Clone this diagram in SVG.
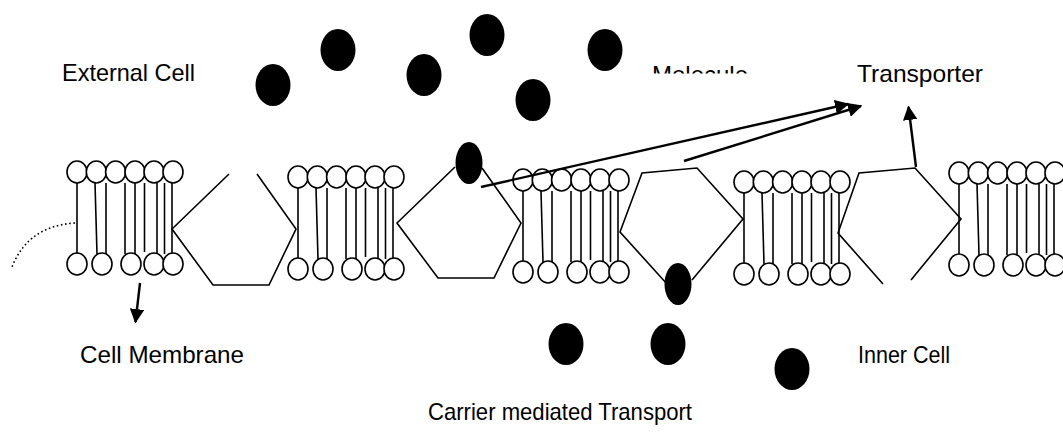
<svg xmlns="http://www.w3.org/2000/svg" xmlns:xlink="http://www.w3.org/1999/xlink" width="1063" height="432" viewBox="0 0 1063 432">
  <style>
    .head { fill: #fff; stroke: #000; stroke-width: 1.6; }
    .tail { stroke: #000; stroke-width: 1.6; fill: none; }
    .carrier { fill: none; stroke: #000; stroke-width: 1.6; stroke-linejoin: miter; }
    .mol { fill: #000; }
    .label { font-family: "Liberation Sans", Arial, sans-serif; font-size: 24px; fill: #000; }
    .arrow { stroke: #000; stroke-width: 2.4; fill: none; }
    .dots { stroke: #000; stroke-width: 1.6; fill: none; stroke-dasharray: 1.6 2.6; }
  </style>
  <defs>
    <!-- one phospholipid bilayer segment, origin at the first upper head -->
    <g id="bilayer">
      <line class="tail" x1="0" y1="11" x2="0" y2="81"/>
      <line class="tail" x1="18" y1="11" x2="20" y2="82"/>
      <line class="tail" x1="29" y1="11" x2="29" y2="82"/>
      <line class="tail" x1="48" y1="11" x2="48" y2="82"/>
      <line class="tail" x1="58" y1="11" x2="58" y2="82"/>
      <line class="tail" x1="67.5" y1="11" x2="67.5" y2="80"/>
      <line class="tail" x1="80" y1="11" x2="80" y2="82"/>
      <line class="tail" x1="87.5" y1="11" x2="87.5" y2="82"/>
      <line class="tail" x1="95" y1="11" x2="95" y2="82"/>
      <ellipse class="head" cx="0" cy="0" rx="10" ry="11"/>
      <ellipse class="head" cx="19.3" cy="0" rx="10" ry="11"/>
      <ellipse class="head" cx="38.6" cy="0" rx="10" ry="11"/>
      <ellipse class="head" cx="58" cy="0" rx="10" ry="11"/>
      <ellipse class="head" cx="77" cy="0" rx="10" ry="11"/>
      <ellipse class="head" cx="96" cy="0" rx="10" ry="11"/>
      <ellipse class="head" cx="0" cy="92" rx="10" ry="11"/>
      <ellipse class="head" cx="25" cy="92" rx="10" ry="11"/>
      <ellipse class="head" cx="54" cy="92" rx="10" ry="11"/>
      <ellipse class="head" cx="77" cy="92" rx="10" ry="11"/>
      <ellipse class="head" cx="96" cy="92" rx="10" ry="11"/>
    </g>
    <marker id="head" viewBox="0 0 10 10" refX="9" refY="5" markerWidth="6" markerHeight="6" orient="auto" markerUnits="strokeWidth">
      <path d="M0,0 L10,5 L0,10 Z" fill="#000"/>
    </marker>
    <clipPath id="clipMolecule">
      <rect x="630" y="50" width="140" height="23.5"/>
    </clipPath>
  </defs>

  <!-- membrane segments -->
  <g id="membrane">
    <use id="bilayer-1" xlink:href="#bilayer" x="77" y="172"/>
    <use id="bilayer-2" xlink:href="#bilayer" x="298" y="177"/>
    <use id="bilayer-3" xlink:href="#bilayer" x="523" y="180"/>
    <use id="bilayer-4" xlink:href="#bilayer" x="744" y="182"/>
    <use id="bilayer-5" xlink:href="#bilayer" x="959" y="173"/>
  </g>

  <!-- carrier proteins -->
  <g id="carrier-1">
    <polyline class="carrier" points="229,174 172,229 213,285 269,285 296,229 257,174"/>
  </g>
  <g id="carrier-2">
    <polyline class="carrier" points="455,167 397,223 438,278 494,278 521,223 482,168"/>
  </g>
  <g id="carrier-3">
    <polyline class="carrier" points="667,284 620,232 642,173 697,168 743,219 692,280"/>
  </g>
  <g id="carrier-4">
    <polyline class="carrier" points="883,284 838,233 859,173 915,168 961,219 911,280"/>
  </g>

  <!-- solute molecules -->
  <g id="molecules">
    <ellipse class="mol" cx="273" cy="85" rx="17.5" ry="21"/>
    <ellipse class="mol" cx="338" cy="50" rx="17.5" ry="21"/>
    <ellipse class="mol" cx="424" cy="75" rx="17.5" ry="21"/>
    <ellipse class="mol" cx="487" cy="35" rx="17.5" ry="21"/>
    <ellipse class="mol" cx="533" cy="100" rx="17.5" ry="21"/>
    <ellipse class="mol" cx="605" cy="50" rx="17.5" ry="21"/>
    <ellipse class="mol" cx="469" cy="163" rx="13.5" ry="21"/>
    <ellipse class="mol" cx="678" cy="284" rx="13.5" ry="21"/>
    <ellipse class="mol" cx="566" cy="344" rx="17.5" ry="21"/>
    <ellipse class="mol" cx="668" cy="344" rx="17.5" ry="21"/>
    <ellipse class="mol" cx="792" cy="369" rx="17.5" ry="21"/>
  </g>

  <!-- pointer arrows -->
  <g id="connectors">
    <line class="arrow" x1="140" y1="283" x2="135.5" y2="322" marker-end="url(#head)"/>
    <line class="arrow" x1="481" y1="187" x2="848" y2="104" marker-end="url(#head)"/>
    <line class="arrow" x1="684" y1="161" x2="861" y2="106" marker-end="url(#head)"/>
    <line class="arrow" x1="916" y1="167" x2="908.5" y2="107" marker-end="url(#head)"/>
    <path class="dots" d="M75,223 Q28,226 12,267"/>
  </g>

  <!-- labels -->
  <g id="labels">
    <text class="label" x="62" y="81" textLength="133" lengthAdjust="spacingAndGlyphs">External Cell</text>
    <text class="label" x="652" y="83" clip-path="url(#clipMolecule)">Molecule</text>
    <text class="label" x="857" y="82" textLength="126" lengthAdjust="spacingAndGlyphs">Transporter</text>
    <text class="label" x="80" y="363" textLength="164" lengthAdjust="spacingAndGlyphs">Cell Membrane</text>
    <text class="label" x="858" y="363" textLength="92" lengthAdjust="spacingAndGlyphs">Inner Cell</text>
    <text class="label" x="428" y="420" textLength="264" lengthAdjust="spacingAndGlyphs">Carrier mediated Transport</text>
  </g>
</svg>
